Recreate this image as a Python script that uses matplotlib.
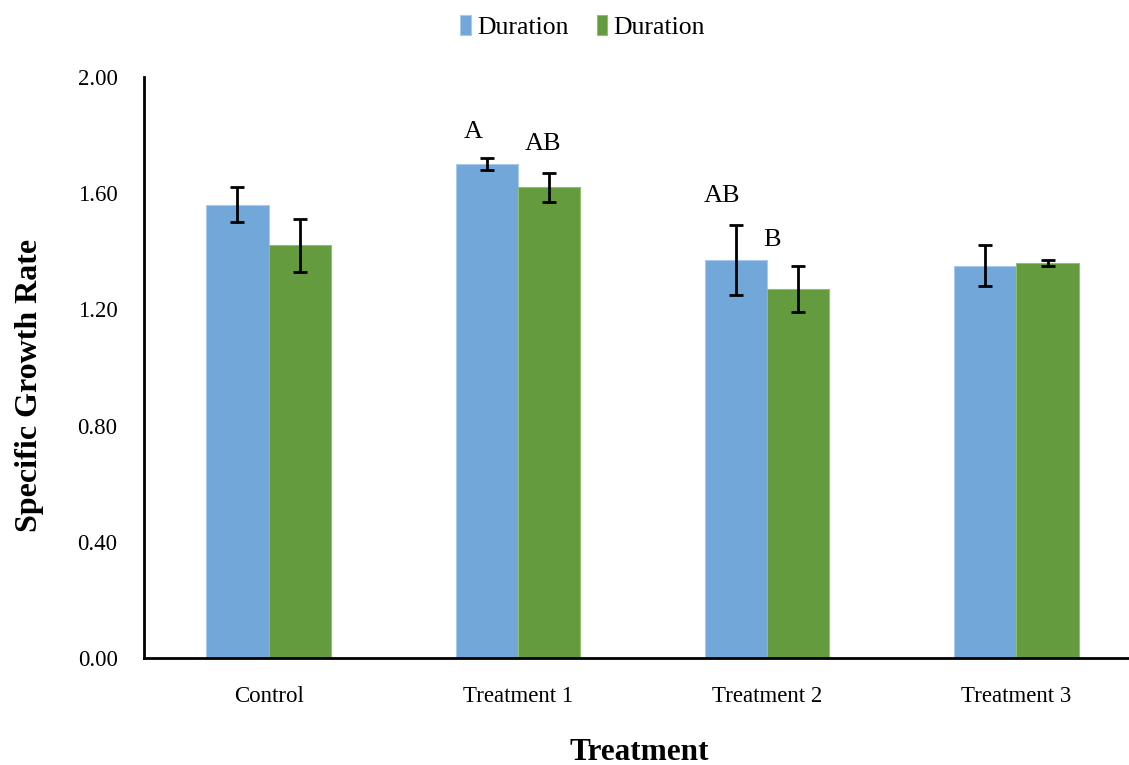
import numpy as np
import matplotlib
matplotlib.use('Agg')
import matplotlib.pyplot as plt

plt.rcParams['font.family'] = ['Liberation Serif', 'DejaVu Serif']

groups = ['Control', 'Treatment 1', 'Treatment 2', 'Treatment 3']
series_names = ['Duration', 'Duration']
rate_a = [1.56, 1.70, 1.37, 1.35]
err_a = [0.06, 0.02, 0.12, 0.07]
rate_b = [1.42, 1.62, 1.27, 1.36]
err_b = [0.09, 0.05, 0.08, 0.01]
yticks = [0.0, 0.4, 0.8, 1.2, 1.6, 2.0]

# significance letters: (group index, x shift, y, text)
letters = [(1, -0.18, 1.81, 'A'), (1, 0.10, 1.77, 'AB'),
           (2, -0.18, 1.59, 'AB'), (2, 0.02, 1.44, 'B')]

blue = '#71a7d9'
green = '#639b3e'

fig = plt.figure(figsize=(11.29, 7.65), dpi=100)
ax = fig.add_axes([144 / 1129, 1 - 658 / 765, 997 / 1129, 581 / 765])

x = np.arange(len(groups))
w = 0.25
err_kw = dict(ecolor='black', elinewidth=2, capsize=5, capthick=2)
ax.bar(x - w / 2, rate_a, w, yerr=err_a, color=blue, edgecolor='#a9caeb',
       linewidth=0.8, label=series_names[0], error_kw=err_kw)
ax.bar(x + w / 2, rate_b, w, yerr=err_b, color=green, edgecolor='#8fbf6f',
       linewidth=0.8, label=series_names[1], error_kw=err_kw)

for gi, dx, yv, txt in letters:
    ax.text(gi + dx, yv, txt, ha='center', va='center', fontsize=19)

ax.set_xlim(-0.5, len(groups) - 0.5)
ax.set_ylim(0, 2.0)
ax.set_yticks(yticks)
ax.set_yticklabels([f'{v:.2f}' for v in yticks])
ax.set_xticks(x)
ax.set_xticklabels(groups)
ax.tick_params(axis='both', length=0, labelsize=16.5)
ax.tick_params(axis='y', pad=19)
ax.tick_params(axis='x', pad=20)

for side in ['top', 'right']:
    ax.spines[side].set_visible(False)
for side in ['left', 'bottom']:
    ax.spines[side].set_linewidth(2)

ax.set_xlabel('Treatment', fontsize=22.5, fontweight='bold')
ax.xaxis.set_label_coords(495 / 997, -94 / 581)
ax.xaxis.label.set_va('center')
ax.set_ylabel('Specific Growth Rate', fontsize=23, fontweight='bold')
ax.yaxis.set_label_coords(-114 / 997, 273 / 581)
ax.yaxis.label.set_va('center')

fig.legend(loc='center', bbox_to_anchor=(0.516, 1 - 27 / 765), ncol=2,
           frameon=False, fontsize=18.5, handlelength=0.4, handleheight=0.85,
           handletextpad=0.25, columnspacing=1.1)

fig.savefig('out.png', dpi=100)
